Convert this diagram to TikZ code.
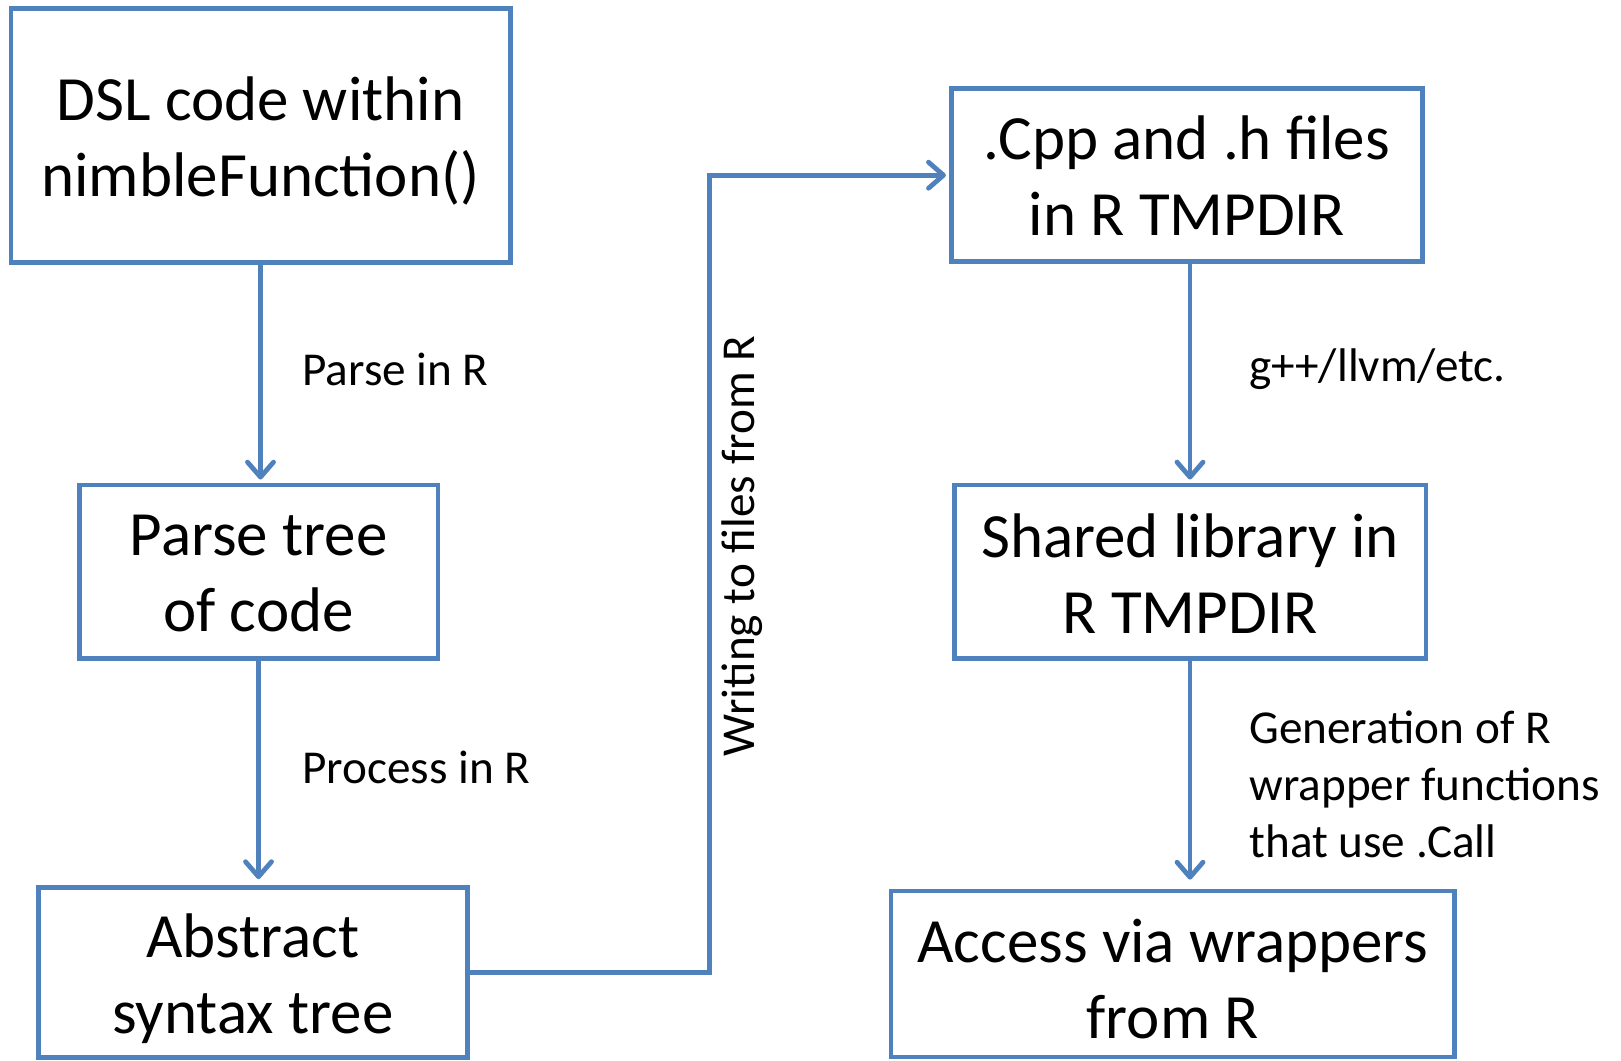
\documentclass[tikz,border=0pt]{standalone}
\usepackage{fontspec}
\setmainfont{Carlito}
\usetikzlibrary{arrows.meta}
\definecolor{offblue}{HTML}{4F81BD}
\tikzset{
  box/.style={draw=offblue, line width=2.4pt, rectangle, inner sep=0pt},
  btxt/.style={align=center, inner sep=0pt,
    font=\fontsize{31.5pt}{37.75pt}\selectfont},
  lbl/.style={anchor=west, align=left, inner sep=0pt, font=\fontsize{23.6pt}{28.5pt}\selectfont},
  arr/.style={draw=offblue, line width=2.4pt, -{Straight Barb[length=7.5pt,width=13pt,round]}, shorten >=1.5pt}
}
\begin{document}
\begin{tikzpicture}[x=0.5pt,y=-0.5pt]
\useasboundingbox (0,0) rectangle (1621,1060);
\node[box, minimum width=249.6pt, minimum height=127.2pt] (dsl) at (260.5,135.5) {};
\node[box, minimum width=179.4pt, minimum height=86.8pt] (parse) at (258.5,571.7) {};
\node[box, minimum width=214.5pt, minimum height=85pt] (ast) at (252.8,972.5) {};
\node[box, minimum width=235.7pt, minimum height=86.4pt] (cpp) at (1187,175.2) {};
\node[box, minimum width=235.9pt, minimum height=86.8pt] (shared) at (1190,571.7) {};
\node[box, minimum width=281.8pt, minimum height=83pt] (access) at (1172.8,974) {};

\node[btxt, yshift=-2.8pt] (dslt) at (dsl.center) {DSL code within\\nimbleFunction()};
\node[btxt, yshift=-0.8pt] (parset) at (parse.center) {Parse tree\\of code};
\node[btxt, yshift=-3.2pt] (astt) at (ast.center) {Abstract\\syntax tree};
\node[btxt, yshift=-0.3pt] (cppt) at (cpp.center) {.Cpp and .h files\\in R TMPDIR};
\node[btxt, yshift=-1pt] (sharedt) at (shared.center) {Shared library in\\R TMPDIR};
\node[btxt, yshift=-2.5pt] (accesst) at (access.center) {Access via wrappers\\from R};

\coordinate (bend) at (709.2,575);
\draw[arr] (dsl.south) -- (dsl.south |- parse.north);
\draw[arr, shorten >=3pt] (parse.south) -- (parse.south |- ast.north);
\draw[arr] (ast.east) -| (bend) |- (cpp.west);
\draw[arr] (cpp.south -| shared.north) -- (shared.north);
\draw[arr, shorten >=4.5pt] (shared.south) -- (shared.south |- access.north);

\node[lbl] (l1) at (302,369) {Parse in R};
\node[lbl] (l2) at (302,767) {Process in R};
\node[lbl] (l3) at (1249,369) {g++/llvm/etc.};
\node[lbl] (l4) at (1249,784) {Generation of R\\wrapper functions\\that use .Call};
\node[lbl, anchor=center, rotate=90] (l5) at (742,546) {Writing to files from R};
\end{tikzpicture}
\end{document}
